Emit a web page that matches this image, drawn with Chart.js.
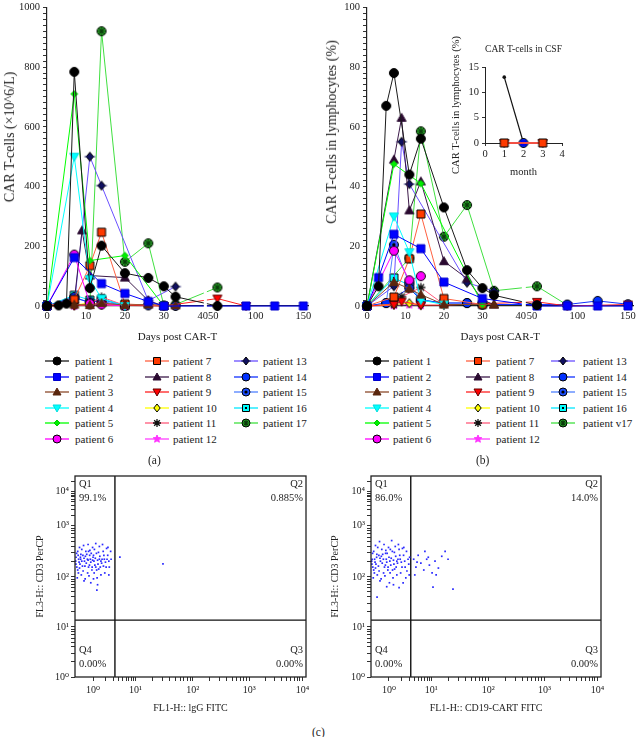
<!DOCTYPE html>
<html>
<head>
<meta charset="utf-8">
<script src="https://cdn.jsdelivr.net/npm/chart.js@4.4.1/dist/chart.umd.min.js"></script>
<style>
  body { margin: 0; background: #fff; width: 640px; height: 737px; position: relative; overflow: hidden; font-family: "Liberation Serif", "DejaVu Serif", serif; color: #222; }
  canvas { position: absolute; }
  .txt { position: absolute; white-space: nowrap; font-size: 11px; line-height: 14px; }
  .rot { position: absolute; white-space: nowrap; transform: translate(-50%, -50%) rotate(-90deg); }
</style>
</head>
<body>
<canvas id="chartA" width="320" height="348" style="left:0;top:-2px"></canvas>
<canvas id="chartB" width="320" height="348" style="left:320px;top:-2px"></canvas>
<canvas id="inset" width="130" height="155" style="left:440px;top:28px"></canvas>
<canvas id="flowL" width="320" height="252" style="left:0;top:466px"></canvas>
<canvas id="flowR" width="320" height="252" style="left:320px;top:466px"></canvas>
<div id="legA"></div>
<div id="legB"></div>

<script>
// ---------- data ----------
var patientNamesA = ['patient 1', 'patient 2', 'patient 3', 'patient 4', 'patient 5', 'patient 6',
  'patient 7', 'patient 8', 'patient 9', 'patient 10', 'patient 11', 'patient 12',
  'patient 13', 'patient 14', 'patient 15', 'patient 16', 'patient 17'];
var patientNamesB = patientNamesA.slice(0, 16).concat(['patient v17']);

var xTickDays = [0, 10, 20, 30, 40, 50, 100, 150];

// (a) CAR T-cells, x10^6/L
var countDays = [
  [0, 3, 5, 7, 11, 14, 20, 26, 30, 33, 60],
  [0, 7, 14, 20, 26, 30, 90, 120, 150],
  [0, 7, 11, 14, 20, 26, 33],
  [0, 7, 11, 14, 20],
  [0, 7, 11, 20, 30],
  [0, 7, 11, 14, 20],
  [0, 7, 11, 14, 20, 30],
  [0, 7, 9, 11, 20, 26, 30],
  [0, 7, 14, 20, 30, 60, 90],
  [0, 7, 11, 14, 20],
  [0, 7, 11, 14, 20],
  [0, 7, 11, 14, 20],
  [0, 7, 11, 14, 26, 33],
  [0, 7, 11, 14, 20, 26, 33],
  [0, 7, 11, 14, 20],
  [0, 7, 11, 14, 20],
  [0, 11, 14, 20, 26, 30, 33, 60]
];
var countValues = [
  [0, 2, 8, 784, 60, 202, 110, 94, 66, 31, 0],
  [0, 162, 75, 42, 15, 0, 0, 0, 0],
  [0, 5, 3, 10, 3, 5, 2],
  [0, 500, 90, 25, 0],
  [0, 710, 152, 169, 0],
  [0, 172, 8, 5, 0],
  [0, 22, 135, 247, 7, 0],
  [0, 15, 253, 102, 95, 18, 0],
  [0, 2, 5, 2, 0, 25, 0],
  [0, 3, 10, 5, 0],
  [0, 2, 8, 30, 2],
  [0, 1, 3, 6, 0],
  [0, 3, 500, 403, 18, 65],
  [0, 30, 10, 22, 3, 2, 0],
  [0, 25, 15, 15, 2],
  [0, 36, 20, 22, 1],
  [0, 5, 920, 148, 210, 2, 5, 62]
];

// (b) CAR T-cells in lymphocytes, %
var pctDays = [
  [0, 3, 5, 7, 11, 14, 20, 26, 30, 33, 60],
  [0, 3, 7, 14, 20, 30, 60, 90, 120, 150],
  [0, 7, 11, 14, 20, 33],
  [0, 7, 11, 14, 20],
  [0, 7, 14, 30],
  [0, 7, 11, 14],
  [0, 7, 11, 14, 20, 30],
  [0, 7, 9, 11, 14, 20, 26, 30, 33],
  [0, 7, 9, 14, 20, 60, 90, 150],
  [0, 7, 11, 14],
  [0, 7, 9, 14, 20],
  [0, 7, 11, 14],
  [0, 7, 9, 11, 26, 33],
  [0, 5, 11, 14, 20, 26, 30, 90, 120, 150],
  [0, 5, 7, 11, 14, 20, 26, 30],
  [0, 7, 11, 14, 20],
  [0, 11, 14, 20, 26, 33, 60, 90]
];
var pctValues = [
  [0, 6.6, 67, 78, 44, 56, 33, 12, 6, 3.6, 0.3],
  [0, 9.5, 24, 19.2, 8, 2.5, 0, 0, 0, 0],
  [0, 8, 5.8, 3.8, 0.5, 0.5],
  [0, 30, 18, 2, 0.5],
  [0, 47.5, 41, 0.5],
  [0, 18.5, 8.6, 10],
  [0, 3, 15.8, 30.8, 2.5, 0.5],
  [0, 49, 63, 32, 41.7, 15, 9.2, 2, 0.5],
  [0, 0.5, 1.5, 0.3, 0.3, 1.4, 0, 0.5],
  [0, 0.5, 0.9, 0.3],
  [0, 0.5, 3.1, 6.2, 0.5],
  [0, 0.3, 0.5, 0.3],
  [0, 6.6, 55, 40.8, 7.8, 5],
  [0, 1, 6, 2, 1, 1, 0.5, 0.5, 1.7, 0.6],
  [0, 1, 20.5, 7.5, 2, 1, 1, 0.5],
  [0, 9.4, 7, 2, 1],
  [0, 16, 58.5, 23.2, 33.8, 5.1, 6.6, 0.3]
];

// inset: CAR T-cells in CSF (month, %)
var csfPatients = [6, 8, 1, 13, 0];
var csfMonths = [[1, 3], [1, 3], [1, 2, 3], [2], [1, 2]];
var csfValues = [[0, 0], [0, 0], [0, 0, 0], [0], [13, 0]];

// (c) flow cytometry, display channels 0-1024
var decadeLabels = ['10\u2070', '10\u00b9', '10\u00b2', '10\u00b3', '10\u2074'];
var flowXDecades = [80, 268, 522, 772, 1008];
var flowYDecades = [0, 255, 510, 770, 944];
var gateX = 177, gateY = 290;
var quadNames = ['Q1', 'Q2', 'Q3', 'Q4'];
var quadPctLeft = ['99.1%', '0.885%', '0.00%', '0.00%'];
var quadPctRight = ['86.0%', '14.0%', '0.00%', '0.00%'];
var dotsLeft = [[5,610],[12,640],[18,585],[25,600],[8,560],[30,650],[35,620],[42,590],[15,530],[22,575],
  [48,640],[55,600],[60,560],[65,620],[70,585],[75,545],[80,610],[88,570],[95,630],[100,595],
  [105,550],[110,615],[118,580],[125,640],[130,600],[138,560],[145,620],[150,590],[158,640],[10,505],
  [28,520],[45,500],[62,515],[85,530],[98,505],[115,520],[20,660],[38,670],[58,675],[78,660],
  [92,680],[108,665],[122,675],[140,655],[3,590],[16,600],[33,565],[50,580],[68,600],[84,590],
  [102,575],[120,600],[135,585],[152,560],[160,600],[7,630],[26,625],[46,615],[66,645],[86,650],
  [104,635],[128,620],[146,660],[12,545],[36,540],[56,530],[76,560],[96,545],[112,560],[132,530],
  [150,520],[40,605],[52,625],[72,630],[90,605],[115,590],[4,575],[20,555],[64,570],[82,500],
  [70,480],[100,470],[40,490],[30,590],[58,595],[78,595],[44,565],[24,610],[14,620],[92,560],
  [142,600],[126,565],[108,600],[60,640],[82,620],[199,611],[390,576],[97,443]];
var dotsRight = [[5,600],[12,640],[18,585],[25,610],[8,560],[30,660],[35,620],[42,590],[15,530],[22,575],
  [48,650],[55,600],[60,560],[65,630],[70,585],[75,545],[80,610],[88,570],[95,640],[100,595],
  [105,550],[110,615],[118,580],[125,650],[130,600],[138,560],[145,620],[150,590],[158,640],[10,505],
  [28,520],[45,500],[62,515],[85,530],[98,505],[115,520],[20,670],[38,690],[58,675],[78,660],
  [92,695],[108,665],[122,675],[140,655],[3,590],[16,600],[33,565],[50,580],[68,600],[84,590],
  [102,575],[120,600],[135,585],[152,560],[165,600],[7,630],[26,625],[46,615],[66,645],[86,650],
  [104,635],[128,620],[146,660],[12,545],[36,540],[56,530],[76,560],[96,545],[112,560],[132,530],
  [170,520],[40,605],[52,625],[72,630],[90,605],[115,590],[4,575],[20,555],[64,570],[82,480],
  [70,460],[100,470],[40,490],[168,575],[160,540],[172,610],[155,505],[143,480],[27,407],[125,455],
  [190,600],[200,560],[210,620],[222,580],[235,545],[248,600],[260,570],[272,530],[285,590],[300,555],
  [315,615],[330,640],[195,520],[240,640],[276,458],[365,448],[205,585],[255,610],[290,520],[343,600]];

// ---------- styles ----------
var lineColors = ['#1a1a1a', '#0000ff', '#8b4a2b', '#00ffff', '#00ff00', '#ff00ff', '#ff6040', '#3c1a4a',
  '#ff2020', '#ffff00', '#ff5a7a', '#ff40ff', '#6a50ff', '#1030ff', '#5080ff', '#00e8ff', '#40e040'];
var markerFills = ['#000', '#0000ff', '#5a260e', '#00ffff', '#00ee00', '#ff00ff', '#ff3a00', '#2a0a30',
  '#ff0000', '#ffff00', '#000', '#ff33ff', '#101060', '#0030ff', '#1a4dff', '#00ffff', '#30c030'];
var markerEdges = ['#000', '#0000cc', '#5a260e', '#00dddd', '#00cc00', '#000', '#000', '#2a0a30',
  '#600000', '#000', '#000', '#ff33ff', '#000', '#000', '#000', '#000', '#000'];
var markerKinds = ['circle', 'square', 'tri', 'triDown', 'diamondSmall', 'circle', 'square', 'tri', 'triDown',
  'diamond', 'asterisk', 'star', 'diamondCross', 'circle', 'bullseye', 'squareDot', 'crossCircle'];

Chart.defaults.font.family = '"Liberation Serif", "DejaVu Serif", serif';
Chart.defaults.font.size = 10.5;
Chart.defaults.color = '#222';

function drawMarker(g, kind, cx, cy, s, fill, edge) {
  g.save();
  g.fillStyle = fill; g.strokeStyle = edge; g.lineWidth = 1;
  g.beginPath();
  if (kind === 'circle' || kind === 'bullseye' || kind === 'crossCircle') {
    g.arc(cx, cy, s, 0, Math.PI * 2);
  } else if (kind === 'square' || kind === 'squareDot') {
    g.rect(cx - s + 0.5, cy - s + 0.5, 2 * s - 1, 2 * s - 1);
  } else if (kind === 'tri') {
    g.moveTo(cx, cy - s); g.lineTo(cx + s, cy + s * 0.75); g.lineTo(cx - s, cy + s * 0.75); g.closePath();
  } else if (kind === 'triDown') {
    g.moveTo(cx, cy + s); g.lineTo(cx + s, cy - s * 0.75); g.lineTo(cx - s, cy - s * 0.75); g.closePath();
  } else if (kind === 'diamond' || kind === 'diamondCross') {
    g.moveTo(cx, cy - s); g.lineTo(cx + s * 0.8, cy); g.lineTo(cx, cy + s); g.lineTo(cx - s * 0.8, cy); g.closePath();
  } else if (kind === 'diamondSmall') {
    var t = s * 0.75;
    g.moveTo(cx, cy - t); g.lineTo(cx + t, cy); g.lineTo(cx, cy + t); g.lineTo(cx - t, cy); g.closePath();
  } else if (kind === 'star') {
    for (var k = 0; k < 10; k++) {
      var r = k % 2 ? s * 0.45 : s;
      var a = -Math.PI / 2 + k * Math.PI / 5;
      if (k === 0) g.moveTo(cx + r * Math.cos(a), cy + r * Math.sin(a));
      else g.lineTo(cx + r * Math.cos(a), cy + r * Math.sin(a));
    }
    g.closePath();
  }
  if (kind !== 'asterisk') { g.fill(); g.stroke(); }
  g.beginPath();
  if (kind === 'asterisk') {
    g.strokeStyle = '#111'; g.lineWidth = 1.3;
    for (var j = 0; j < 4; j++) {
      var ang = j * Math.PI / 4;
      g.moveTo(cx - s * Math.cos(ang), cy - s * Math.sin(ang));
      g.lineTo(cx + s * Math.cos(ang), cy + s * Math.sin(ang));
    }
    g.stroke();
  } else if (kind === 'bullseye') {
    g.fillStyle = '#000'; g.arc(cx, cy, s * 0.4, 0, Math.PI * 2); g.fill();
  } else if (kind === 'squareDot') {
    g.fillStyle = '#000'; g.fillRect(cx - 1, cy - 1, 2, 2);
  } else if (kind === 'crossCircle') {
    g.strokeStyle = '#0a3a0a'; g.lineWidth = 1.2;
    var d = s * 0.7;
    g.moveTo(cx - d, cy - d); g.lineTo(cx + d, cy + d);
    g.moveTo(cx + d, cy - d); g.lineTo(cx - d, cy + d);
    g.moveTo(cx - s, cy); g.lineTo(cx + s, cy);
    g.moveTo(cx, cy - s); g.lineTo(cx, cy + s);
    g.stroke();
  } else if (kind === 'diamondCross') {
    g.strokeStyle = '#101060'; g.lineWidth = 1;
    g.moveTo(cx - s * 1.2, cy); g.lineTo(cx + s * 1.2, cy);
    g.stroke();
  }
  g.restore();
}

function markerImage(i, s) {
  var c = document.createElement('canvas');
  c.width = c.height = Math.ceil(s * 2 + 5);
  drawMarker(c.getContext('2d'), markerKinds[i], c.width / 2, c.height / 2, s, markerFills[i], markerEdges[i]);
  return c;
}
var markers = markerKinds.map(function (k, i) { return markerImage(i, 4.5); });

// broken x axis: 0-40 linear, then 50-150 compressed
function brokenAxis(restart, k) {
  return function (d) { return d <= 40 ? d : restart + (d - 50) * k; };
}
var mapA = brokenAxis(41.3, 0.245);
var mapB = brokenAxis(41.55, 0.263);

var breakPlugin = {
  id: 'axisBreak',
  afterDatasetsDraw: function (chart, args, opts) {
    var xs = chart.scales.x, ca = chart.chartArea, ctx = chart.ctx;
    var a = xs.getPixelForValue(opts.from), b = xs.getPixelForValue(opts.to);
    ctx.save();
    ctx.fillStyle = '#fff';
    ctx.fillRect(a + 1, ca.top, b - a - 2, ca.bottom - ca.top + 2);
    ctx.restore();
  }
};

function makeMain(id, days, values, map, xMax, yMax, yStep, yMajor, padRight) {
  new Chart(document.getElementById(id), {
    type: 'line',
    data: {
      datasets: days.map(function (ds, i) {
        return {
          data: ds.map(function (d, j) { return { x: map(d), y: values[i][j] }; }),
          borderColor: lineColors[i], borderWidth: 1, tension: 0, fill: false,
          pointStyle: markers[i], pointRadius: 5, clip: false
        };
      })
    },
    options: {
      responsive: false, animation: false, events: [],
      layout: { padding: { top: 0, left: 0, right: padRight, bottom: 0 } },
      plugins: { legend: { display: false }, tooltip: { enabled: false },
        axisBreak: { from: map(40), to: map(50) } },
      scales: {
        x: {
          type: 'linear', min: 0, max: xMax,
          afterFit: function (s) { s.height = 40; },
          afterBuildTicks: function (s) { s.ticks = xTickDays.map(function (d) { return { value: map(d) }; }); },
          ticks: { autoSkip: false, maxRotation: 0, padding: 4,
            callback: function (v, i) { return (xTickDays[i] === 50 ? '\u2002\u2002' : '') + xTickDays[i]; } },
          grid: { display: false, drawTicks: false },
          border: { color: '#222', width: 1.2 },
          title: { display: true, text: 'Days post CAR-T', font: { size: 11 }, padding: { top: 0, bottom: 2 } }
        },
        y: {
          min: 0, max: yMax,
          afterFit: function (s) { s.width = 47; },
          ticks: { stepSize: yStep, autoSkip: false, padding: 3,
            callback: function (v) { return v % yMajor === 0 ? v : ''; } },
          grid: { drawOnChartArea: false, tickLength: 4, color: '#333' },
          border: { color: '#222', width: 1.2 }
        }
      }
    },
    plugins: [breakPlugin]
  });
}

makeMain('chartA', countDays, countValues, mapA, 67, 1000, 20, 200, 12);
makeMain('chartB', pctDays, pctValues, mapB, 69.3, 100, 2, 20, 4);

// inset
new Chart(document.getElementById('inset'), {
  type: 'line',
  data: {
    datasets: csfPatients.map(function (p, i) {
      return {
        data: csfMonths[i].map(function (m, j) { return { x: m, y: csfValues[i][j] }; }),
        borderColor: p === 0 ? '#111' : lineColors[p], borderWidth: p === 0 ? 1.2 : 1.5, tension: 0,
        pointStyle: p === 0 ? 'circle' : markerImage(p, p === 1 ? 3 : 4.5),
        pointRadius: p === 0 ? 1.8 : 5, backgroundColor: '#111', pointBorderWidth: 0, clip: false
      };
    })
  },
  options: {
    responsive: false, animation: false, events: [],
    layout: { padding: { right: 8 } },
    plugins: {
      legend: { display: false }, tooltip: { enabled: false },
      title: { display: true, text: 'CAR T-cells in CSF', fullSize: false, color: '#222',
        font: { size: 10.5, weight: 'normal' }, padding: { top: 14.7, bottom: 11.7 } }
    },
    scales: {
      x: { type: 'linear', min: 0, max: 4,
        afterFit: function (s) { s.height = 40; },
        ticks: { stepSize: 1, padding: 2 },
        grid: { drawOnChartArea: false, tickLength: 3, color: '#333' },
        border: { color: '#222' },
        title: { display: true, text: 'month', font: { size: 10.5 }, padding: { top: 0, bottom: 4 } } },
      y: { min: 0, max: 15,
        afterFit: function (s) { s.width = 45; },
        ticks: { stepSize: 5, padding: 3 },
        grid: { drawOnChartArea: false, tickLength: 3, color: '#333' },
        border: { color: '#222' },
        title: { display: true, text: 'CAR T-cells in lymphocytes (%)', font: { size: 10.5 }, padding: { top: 9.5 } } }
    }
  }
});

// flow cytometry
function decadeTicks(decades) {
  var t = [];
  decades.forEach(function (c, k) {
    t.push({ value: c, lab: decadeLabels[k] });
    var span = k < decades.length - 1 ? decades[k + 1] - c : decades[k] - decades[k - 1];
    for (var m = 2; m <= 9; m++) {
      var v = c + Math.log10(m) * span;
      if (v < 1024) t.push({ value: v, lab: '' });
    }
  });
  return t;
}

var quadPlugin = {
  id: 'quads',
  afterDraw: function (chart, args, o) {
    var ca = chart.chartArea, ctx = chart.ctx;
    ctx.save();
    ctx.strokeStyle = '#222'; ctx.lineWidth = 1.3;
    ctx.strokeRect(ca.left, ca.top, ca.right - ca.left, ca.bottom - ca.top);
    ctx.fillStyle = '#222';
    ctx.font = '10.5px "Liberation Serif", serif';
    ctx.textBaseline = 'middle';
    ctx.textAlign = 'left';
    ctx.fillText(quadNames[0], ca.left + 4, ca.top + 8);
    ctx.fillText(o.pct[0], ca.left + 4, ca.top + 22);
    ctx.fillText(quadNames[3], ca.left + 4, ca.bottom - 27);
    ctx.fillText(o.pct[3], ca.left + 4, ca.bottom - 13);
    ctx.textAlign = 'right';
    ctx.fillText(quadNames[1], ca.right - 3, ca.top + 8);
    ctx.fillText(o.pct[1], ca.right - 3, ca.top + 22);
    ctx.fillText(quadNames[2], ca.right - 3, ca.bottom - 27);
    ctx.fillText(o.pct[2], ca.right - 3, ca.bottom - 13);
    ctx.restore();
  }
};

function makeFlow(id, dots, pct, xTitle, yWidth, yTitlePad, padLeft, padRight) {
  new Chart(document.getElementById(id), {
    type: 'scatter',
    data: {
      datasets: [
        { data: dots.map(function (p) { return { x: p[0], y: p[1] }; }),
          pointStyle: 'rect', pointRadius: 1.2, backgroundColor: '#2a2aff', borderWidth: 0 },
        { type: 'line', data: [{ x: gateX, y: 0 }, { x: gateX, y: 1024 }],
          borderColor: '#111', borderWidth: 1.4, pointRadius: 0 },
        { type: 'line', data: [{ x: 0, y: gateY }, { x: 1024, y: gateY }],
          borderColor: '#111', borderWidth: 1.4, pointRadius: 0 }
      ]
    },
    options: {
      responsive: false, animation: false, events: [],
      layout: { padding: { top: 10, left: padLeft, right: padRight, bottom: 0 } },
      plugins: { legend: { display: false }, tooltip: { enabled: false }, quads: { pct: pct } },
      scales: {
        x: { type: 'linear', min: 0, max: 1024,
          afterFit: function (s) { s.height = 41; },
          afterBuildTicks: function (s) { s.ticks = decadeTicks(flowXDecades); },
          ticks: { autoSkip: false, maxRotation: 0, padding: 3, font: { size: 10 },
            callback: function (v, i, t) { return t[i].lab; } },
          grid: { drawOnChartArea: false, tickLength: 4, color: '#333' },
          border: { display: false },
          title: { display: true, text: xTitle, font: { size: 10 }, padding: { top: 0, bottom: 4 } } },
        y: { min: 0, max: 1024,
          afterFit: function (s) { s.width = yWidth; },
          afterBuildTicks: function (s) { s.ticks = decadeTicks(flowYDecades); },
          ticks: { autoSkip: false, padding: 2, font: { size: 10 },
            callback: function (v, i, t) { return t[i].lab; } },
          grid: { drawOnChartArea: false, tickLength: 4, color: '#333' },
          border: { display: false },
          title: { display: true, text: 'FL3-H:: CD3 PerCP', font: { size: 10 }, padding: { top: yTitlePad } } }
      }
    },
    plugins: [quadPlugin]
  });
}

makeFlow('flowL', dotsLeft, quadPctLeft, 'FL1-H:: lgG FITC', 75, 34, 0, 14);
makeFlow('flowR', dotsRight, quadPctRight, 'FL1-H:: CD19-CART FITC', 51, 9, 0, 39);

// legends (3 columns, column-major)
function buildLegend(hostId, names, markerX, textX, rowY) {
  var host = document.getElementById(hostId);
  names.forEach(function (name, i) {
    var col = Math.floor(i / 6), row = i % 6;
    var c = document.createElement('canvas');
    c.width = 26; c.height = 14;
    c.style.left = (markerX[col] - 13) + 'px';
    c.style.top = (rowY[row] - 7) + 'px';
    var g = c.getContext('2d');
    g.strokeStyle = lineColors[i]; g.lineWidth = 1.3;
    g.beginPath(); g.moveTo(1, 7); g.lineTo(25, 7); g.stroke();
    drawMarker(g, markerKinds[i], 13, 7, 4, markerFills[i], markerEdges[i]);
    host.appendChild(c);
    var t = document.createElement('div');
    t.className = 'txt';
    t.textContent = name;
    t.style.left = textX[col] + 'px';
    t.style.top = (rowY[row] - 7) + 'px';
    host.appendChild(t);
  });
}
var legendRows = [361, 377, 392, 408, 423, 439];
buildLegend('legA', patientNamesA, [57, 157, 246], [75, 173, 263], legendRows);
buildLegend('legB', patientNamesB, [377, 478, 563], [393, 496, 583], legendRows);
</script>

<div class="rot" style="left:10px;top:137px;font-size:14px">CAR T-cells (×10^6/L)</div>
<div class="rot" style="left:332px;top:132px;font-size:14px">CAR T-cells in lymphocytes (%)</div>
<div class="txt" style="left:148px;top:453px;font-size:11.5px">(a)</div>
<div class="txt" style="left:476px;top:453px;font-size:11.5px">(b)</div>
<div class="txt" style="left:312px;top:725px;font-size:11.5px">(c)</div>
</body>
</html>
